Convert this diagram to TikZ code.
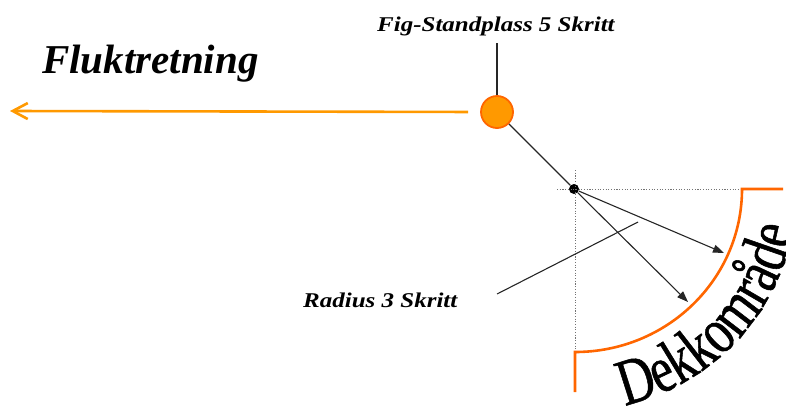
\documentclass[tikz,border=0pt]{standalone}
\usepackage{fontspec}
\setmainfont{Liberation Serif}
\newfontfamily\lblfont[FakeStretch=1.19]{Liberation Serif}
\newfontfamily\dekfont[FakeStretch=0.76,FakeBold=0.8]{Liberation Serif}
\usetikzlibrary{arrows.meta,decorations.text}
\definecolor{flagfill}{HTML}{FF9900}
\definecolor{arcorange}{HTML}{FF6600}
\begin{document}
\begin{tikzpicture}[x=1pt,y=-1pt,
  lbl/.style={font=\lblfont\bfseries\itshape\fontsize{21}{21}\selectfont, inner sep=0pt, anchor=base west},
  blackline/.style={draw=black!85, line width=1.1pt},
  guide/.style={draw=black!55, line width=0.9pt, dash pattern=on 1.1pt off 1.6pt},
  orangeline/.style={draw=arcorange, line width=2.6pt},
  pointer/.style={blackline, -{Triangle[length=11pt,width=8pt]}}
]
\useasboundingbox (0,0) rectangle (786,410);

% labels
\node[lbl] (figlbl) at (377,31) {Fig-Standplass 5 Skritt};
\node[lbl] (radlbl) at (303,307) {Radius 3 Skritt};
\node[font=\bfseries\itshape\fontsize{41}{41}\selectfont, inner sep=0pt, anchor=base west] (flukt) at (42,73) {Fluktretning};

% stand position
\node[circle, fill=flagfill, draw=arcorange, line width=1.8pt, minimum size=32pt, inner sep=0pt] (flag) at (497,112) {};
\coordinate (figtick) at (497,43);
\draw[blackline] (figtick) -- (flag.north);

% flight direction
\coordinate (fluktend) at (10,111);
\draw[draw=flagfill, line width=2.6pt, shorten <=12pt, -{Straight Barb[length=15pt,width=16pt]}] (flag.west) -- (fluktend);

% dog point
\node[circle, fill=black, minimum size=10pt, inner sep=0pt] (pt) at (574,189) {};
\draw[blackline] (flag) -- (pt);

% guides
\coordinate (hA) at (557,189);
\coordinate (hB) at (742,189);
\coordinate (vA) at (575,170);
\coordinate (vB) at (575,352);
\draw[guide] (hA) -- (hB);
\draw[guide] (vA) -- (vB);

% cover arc
\coordinate (arcbot) at (575,392);
\coordinate (arcstart) at (575,352);
\coordinate (arcright) at (783,189);
\draw[orangeline] (arcbot) -- (arcstart) arc[start angle=90, end angle=0, x radius=167, y radius=163] -- (arcright);

% radius arrows
\coordinate (tipA) at (724,253);
\coordinate (tipB) at (688,302);
\draw[pointer] (pt) -- (tipA);
\draw[pointer] (pt) -- (tipB);

% radius label line
\coordinate (radA) at (497,294);
\coordinate (radB) at (638,222);
\draw[blackline] (radA) -- (radB);

% Dekkomraade text along arc
\path[decorate, decoration={text along path, text align=left,
  text={|\dekfont\fontsize{66}{66}\selectfont|Dekkområde}}]
  (624.9,405.3) arc[start angle=77, end angle=5, radius=222];
\end{tikzpicture}
\end{document}
